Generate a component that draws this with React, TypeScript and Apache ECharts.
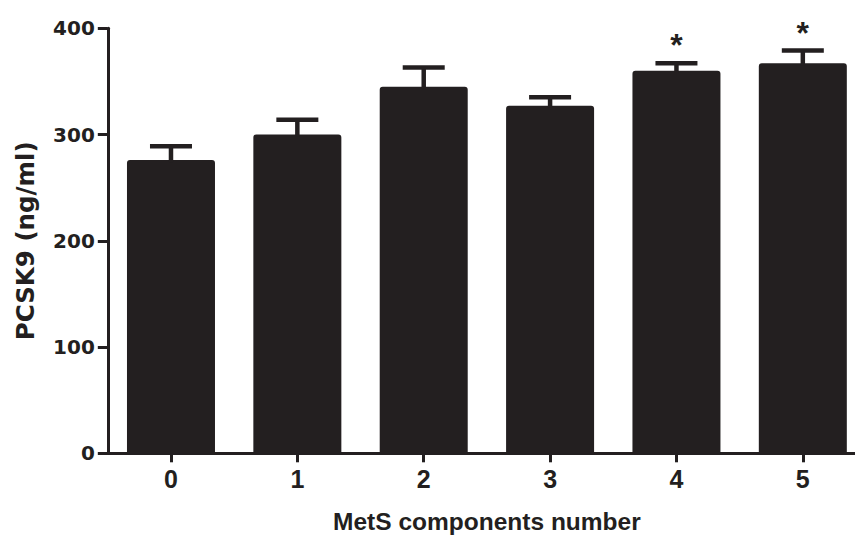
import React, { useEffect, useRef } from "react";
import * as echarts from "echarts";

const categories = ["0", "1", "2", "3", "4", "5"];
const meanValues = [276, 300, 345, 327, 360, 367];
const upperValues = [289, 314, 363, 335, 367, 379];
const significance = ["", "", "", "", "*", "*"];
const yTicks = [0, 100, 200, 300, 400];

const INK = "#231f20";
const SANS = "'Liberation Sans', Arial, sans-serif";

export default function App() {
  const ref = useRef<HTMLDivElement>(null);
  useEffect(() => {
    if (!ref.current) return;
    const chart = echarts.init(ref.current, null, { renderer: "svg" });
    const errData = categories.map((_, i) => [i, meanValues[i], upperValues[i]]);
    chart.setOption({
      animation: false,
      backgroundColor: "#ffffff",
      grid: { left: 107.8, right: 0, top: 28.3, bottom: 89.7, containLabel: false },
      xAxis: {
        type: "category",
        data: categories,
        boundaryGap: true,
        axisLine: { show: true, lineStyle: { color: INK, width: 3 } },
        axisTick: { show: true, alignWithLabel: true, length: 9, lineStyle: { color: INK, width: 3 } },
        axisLabel: {
          color: INK,
          fontFamily: SANS,
          fontWeight: "bold",
          fontSize: 25,
          margin: 13,
        },
        name: "MetS components number",
        nameLocation: "middle",
        nameGap: 56,
        nameTextStyle: {
          color: INK,
          fontFamily: SANS,
          fontWeight: "bold",
          fontSize: 24.5,
        },
      },
      yAxis: {
        type: "value",
        min: yTicks[0],
        max: yTicks[yTicks.length - 1],
        interval: 100,
        splitLine: { show: false },
        axisLine: { show: true, lineStyle: { color: INK, width: 3 } },
        axisTick: { show: true, length: 10, lineStyle: { color: INK, width: 3 } },
        axisLabel: {
          color: INK,
          fontFamily: "DejaVu Sans",
          fontWeight: "bold",
          fontSize: 20,
          margin: 13,
        },
        name: "PCSK9 (ng/ml)",
        nameLocation: "middle",
        nameGap: 70,
        nameTextStyle: {
          color: INK,
          fontFamily: "DejaVu Sans",
          fontWeight: "bold",
          fontSize: 24.5,
        },
      },
      series: [
        {
          type: "bar",
          data: meanValues,
          barWidth: 88,
          itemStyle: { color: INK, borderRadius: [3, 3, 0, 0] },
          z: 2,
        },
        {
          type: "custom",
          data: errData,
          z: 3,
          renderItem: (params: any, api: any) => {
            const i = api.value(0);
            const base = api.coord([i, api.value(1)]);
            const top = api.coord([i, api.value(2)]);
            const x = base[0];
            const capHalf = 21;
            const children: any[] = [
              {
                type: "line",
                shape: { x1: x, y1: base[1] + 2, x2: x, y2: top[1] },
                style: { stroke: INK, lineWidth: 4.5 },
              },
              {
                type: "line",
                shape: { x1: x - capHalf, y1: top[1], x2: x + capHalf, y2: top[1] },
                style: { stroke: INK, lineWidth: 4.5 },
              },
            ];
            const mark = significance[params.dataIndex];
            if (mark) {
              children.push({
                type: "text",
                x: x,
                y: top[1] - 18,
                style: {
                  text: mark,
                  fill: INK,
                  fontFamily: SANS,
                  fontWeight: "bold",
                  fontSize: 32,
                  align: "center",
                  verticalAlign: "middle",
                },
              });
            }
            return { type: "group", children };
          },
        },
      ],
    });
    return () => chart.dispose();
  }, []);
  return (
    <div
      style={{ position: "absolute", left: 0, top: 0, width: 855, height: 543, overflow: "hidden" }}
    >
      <div ref={ref} style={{ width: 866.2, height: 543 }} />
    </div>
  );
}
